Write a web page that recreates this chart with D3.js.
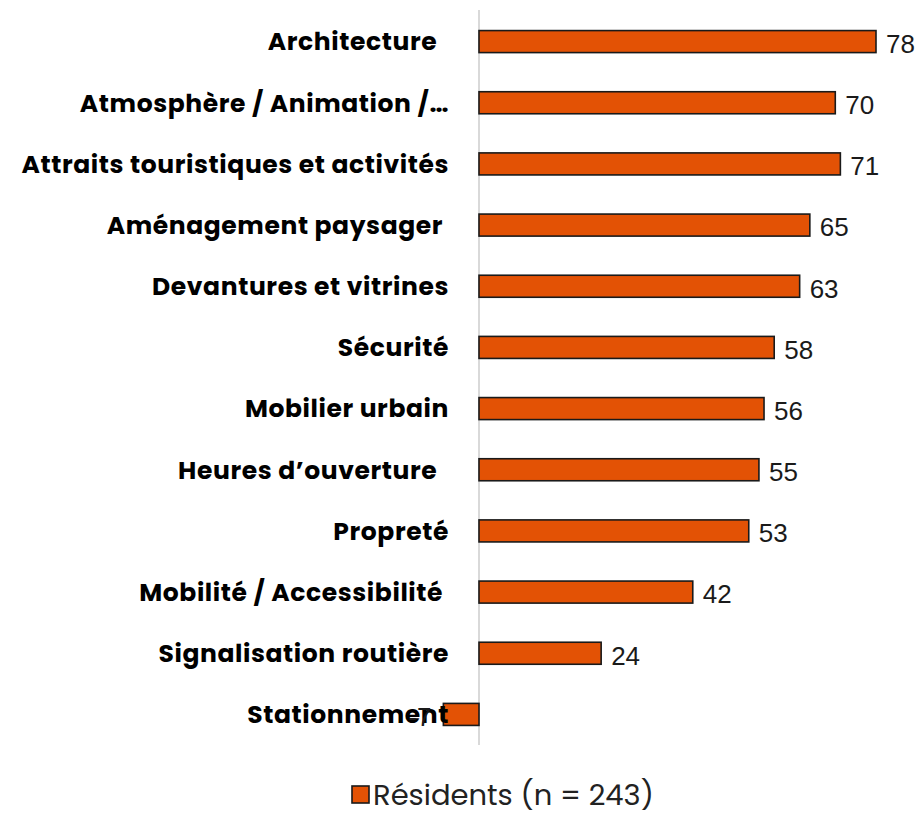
<!DOCTYPE html>
<html>
<head>
<meta charset="utf-8">
<script src="https://cdn.jsdelivr.net/npm/d3@7"></script>
<style>
  body { margin: 0; background: #fff; }
</style>
</head>
<body>
<div id="chart"></div>
<script>
const categories = [
  "Architecture\u00a0\u00a0",
  "Atmosphère / Animation /…",
  "Attraits touristiques et activités",
  "Aménagement paysager\u00a0",
  "Devantures et vitrines",
  "Sécurité",
  "Mobilier urbain",
  "Heures d’ouverture\u00a0\u00a0",
  "Propreté",
  "Mobilité / Accessibilité\u00a0",
  "Signalisation routière",
  "Stationnement"
];
const residents = [78, 70, 71, 65, 63, 58, 56, 55, 53, 42, 24, -7];
const seriesName = "Résidents (n = 243)";

const width = 923, height = 817;

const svg = d3.select("#chart").append("svg")
    .attr("width", width)
    .attr("height", height);

const x = d3.scaleLinear()
    .domain([0, 78])
    .range([479, 876]);

const y = d3.scaleBand()
    .domain(categories)
    .range([11, 745])
    .paddingInner(0.64)
    .paddingOuter(0.32);

// zero axis
svg.append("line")
    .attr("x1", x(0)).attr("x2", x(0))
    .attr("y1", 10).attr("y2", 745)
    .attr("stroke", "#d9d9d9")
    .attr("stroke-width", 2);

svg.append("g")
  .selectAll("rect")
  .data(residents)
  .join("rect")
    .attr("x", d => x(Math.min(0, d)))
    .attr("y", (d, i) => y(categories[i]))
    .attr("width", d => Math.abs(x(d) - x(0)))
    .attr("height", y.bandwidth())
    .attr("fill", "#e35205")
    .attr("stroke", "#1a1a1a")
    .attr("stroke-width", 1.6);

// category labels
svg.append("g")
  .selectAll("text")
  .data(categories)
  .join("text")
    .attr("x", 449)
    .attr("y", d => y(d) + y.bandwidth() / 2)
    .attr("dy", "0.35em")
    .attr("text-anchor", "end")
    .style("white-space", "pre")
    .style("letter-spacing", "0.6px")
    .attr("font-family", "Poppins, 'Open Sans', sans-serif")
    .attr("font-weight", 700)
    .attr("font-size", 25)
    .attr("fill", "#000")
    .text(d => d);

// value labels
svg.append("g")
  .selectAll("text")
  .data(residents)
  .join("text")
    .attr("x", d => d >= 0 ? x(d) + 10 : x(d) - 12)
    .attr("y", (d, i) => y(categories[i]) + y.bandwidth() / 2 + 2)
    .attr("dy", "0.36em")
    .attr("text-anchor", d => d >= 0 ? "start" : "end")
    .attr("font-family", "'Liberation Sans', Arial, sans-serif")
    .attr("font-size", 26)
    .attr("fill", "#1a1a1a")
    .text(d => d);

// legend
const legend = svg.append("g").attr("transform", "translate(352,786)");
legend.append("rect")
    .attr("width", 17).attr("height", 17)
    .attr("fill", "#e35205")
    .attr("stroke", "#1a1a1a")
    .attr("stroke-width", 1.6);
legend.append("text")
    .attr("x", 21)
    .attr("y", 9)
    .attr("dy", "0.35em")
    .attr("font-family", "Poppins, 'Open Sans', sans-serif")
    .attr("font-size", 29)
    .attr("fill", "#222")
    .text(seriesName);
</script>
</body>
</html>
